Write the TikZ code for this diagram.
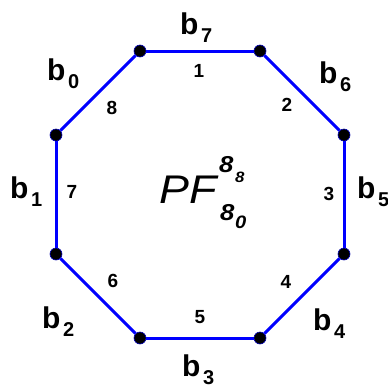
\documentclass[tikz,border=0pt]{standalone}
\usepackage{fontspec}
\setmainfont{Liberation Sans}
\usepackage{graphicx}
\usepackage{tikz}

% side label: b with lowered index
\newcommand{\bsub}[1]{b\hspace{2.5pt}\raisebox{-8pt}{\fontsize{20}{20}\selectfont #1}}
% slightly widened italic text for the centre symbol
\newcommand{\wide}[1]{\scalebox{1.12}[1]{#1}}

\begin{document}
\begin{tikzpicture}[x=1pt, y=-1pt,
    % corner dots and blue sides
    vertex/.style={circle, fill=black, draw=blue!70!black, line width=0.6pt, inner sep=0pt, minimum size=12pt},
    side/.style={draw=blue, line width=3pt},
    % outer b labels and inner side numbers
    sidelabel/.style={anchor=base west, inner sep=0pt, font=\fontsize{30}{30}\selectfont\bfseries},
    sidenum/.style={inner sep=0pt, font=\fontsize{19}{19}\selectfont\bfseries},
    bigitem/.style={anchor=base west, inner sep=0pt},
]
\useasboundingbox (0,0) rectangle (388,389);

% ==================== 1. octagon grid ====================
\def\xL{56}
\def\xA{140}
\def\xB{260}
\def\xR{344}
\def\yT{51}
\def\yU{135}
\def\yD{254}
\def\yB{338}

% ==================== 2. corners ====================
\node[vertex] (v1) at (\xA, \yT) {};
\node[vertex] (v2) at (\xB, \yT) {};
\node[vertex] (v3) at (\xR, \yU) {};
\node[vertex] (v4) at (\xR, \yD) {};
\node[vertex] (v5) at (\xB, \yB) {};
\node[vertex] (v6) at (\xA, \yB) {};
\node[vertex] (v7) at (\xL, \yD) {};
\node[vertex] (v8) at (\xL, \yU) {};

% ==================== 3. sides ====================
\draw[side] (v1) -- (v2);
\draw[side] (v2) -- (v3);
\draw[side] (v3) -- (v4);
\draw[side] (v4) -- (v5);
\draw[side] (v5) -- (v6);
\draw[side] (v6) -- (v7);
\draw[side] (v7) -- (v8);
\draw[side] (v8) -- (v1);

% ==================== 4. side numbers (inside) ====================
\node[sidenum] (n1) at (199, 71)  {1};
\node[sidenum] (n2) at (287, 105) {2};
\node[sidenum] (n3) at (329, 194) {3};
\node[sidenum] (n4) at (286, 282) {4};
\node[sidenum] (n5) at (200, 317) {5};
\node[sidenum] (n6) at (113, 281) {6};
\node[sidenum] (n7) at (72, 192)  {7};
\node[sidenum] (n8) at (112, 108) {8};

% ==================== 5. side labels (outside) ====================
\node[sidelabel] (b7) at (180, 34)  {\bsub{7}};
\node[sidelabel] (b0) at (47, 80)   {\bsub{0}};
\node[sidelabel] (b6) at (319, 83)  {\bsub{6}};
\node[sidelabel] (b1) at (10, 198)  {\bsub{1}};
\node[sidelabel] (b5) at (357, 198) {\bsub{5}};
\node[sidelabel] (b2) at (42, 328)  {\bsub{2}};
\node[sidelabel] (b3) at (182, 376) {\bsub{3}};
\node[sidelabel] (b4) at (313, 330) {\bsub{4}};

% ==================== 6. centre symbol ====================
\node[bigitem, font=\fontsize{40}{40}\selectfont\itshape] (pf) at (159, 203) {\wide{PF}};
\node[bigitem, font=\fontsize{23}{23}\selectfont\bfseries\itshape] (up8) at (219, 172) {\wide{8}};
\node[bigitem, font=\fontsize{15}{15}\selectfont\bfseries\itshape] (up8s) at (235, 182) {\wide{8}};
\node[bigitem, font=\fontsize{23}{23}\selectfont\bfseries\itshape] (lo8) at (220, 220) {\wide{8}};
\node[bigitem, font=\fontsize{18}{18}\selectfont\bfseries\itshape] (lo0) at (235, 228) {\wide{0}};

\end{tikzpicture}
\end{document}
